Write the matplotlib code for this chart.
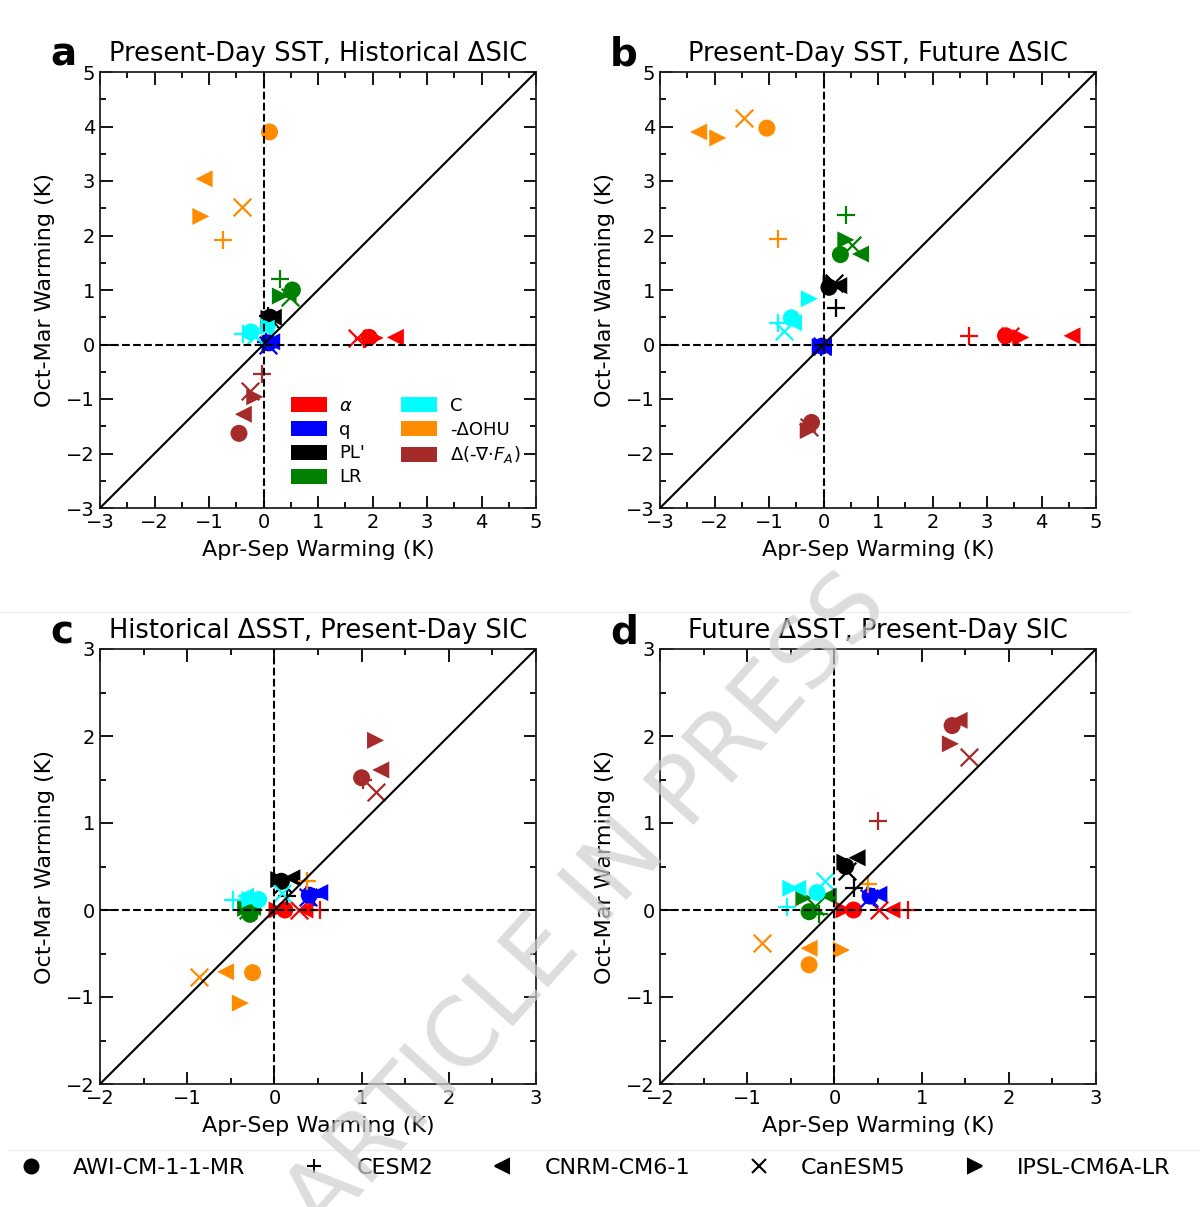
import matplotlib
matplotlib.use('Agg')
import matplotlib.pyplot as plt
from matplotlib.patches import Patch
from matplotlib.lines import Line2D

models = ['AWI-CM-1-1-MR', 'CESM2', 'CNRM-CM6-1', 'CanESM5', 'IPSL-CM6A-LR']
markers = ['o', '+', '<', 'x', '>']

components = ['$\\alpha$', 'q', "PL'", 'LR', 'C', '-ΔOHU', 'Δ(-∇·$F_A$)']
colors = ['#ff0000', '#0000ff', '#000000', '#008000', '#00ffff', '#ff8c00', '#a52a2a']

titles = ['Present-Day SST, Historical ΔSIC', 'Present-Day SST, Future ΔSIC',
          'Historical ΔSST, Present-Day SIC', 'Future ΔSST, Present-Day SIC']
letters = ['a', 'b', 'c', 'd']

# rows = components, columns = models (AWI, CESM2, CNRM, CanESM5, IPSL)
a_x = [[1.94, 1.85, 2.42, 1.72, 2.05],
       [0.10, 0.05, 0.15, 0.08, 0.12],
       [0.12, 0.08, 0.18, 0.14, 0.10],
       [0.53, 0.30, 0.45, 0.49, 0.31],
       [-0.23, -0.38, 0.05, -0.15, 0.10],
       [0.11, -0.75, -1.09, -0.40, -1.15],
       [-0.45, -0.02, -0.37, -0.24, -0.16]]
a_y = [[0.13, 0.10, 0.13, 0.12, 0.12],
       [0.03, 0.05, 0.05, 0.00, 0.02],
       [0.50, 0.53, 0.50, 0.45, 0.48],
       [1.00, 1.20, 0.92, 0.88, 0.89],
       [0.23, 0.20, 0.30, 0.15, 0.33],
       [3.90, 1.92, 3.04, 2.53, 2.35],
       [-1.63, -0.55, -1.28, -0.85, -0.96]]

b_x = [[3.34, 2.67, 4.56, 3.42, 3.62],
       [-0.03, -0.05, 0.00, -0.02, -0.06],
       [0.10, 0.23, 0.28, 0.20, 0.14],
       [0.31, 0.41, 0.68, 0.53, 0.41],
       [-0.59, -0.84, -0.55, -0.72, -0.26],
       [-1.04, -0.84, -2.29, -1.45, -1.94],
       [-0.22, -0.25, -0.30, -0.27, -0.28]]
b_y = [[0.16, 0.15, 0.16, 0.15, 0.13],
       [-0.03, -0.05, -0.05, -0.02, -0.04],
       [1.05, 0.67, 1.08, 1.13, 1.12],
       [1.65, 2.38, 1.66, 1.83, 1.92],
       [0.49, 0.40, 0.40, 0.24, 0.84],
       [3.97, 1.94, 3.90, 4.16, 3.79],
       [-1.43, -1.45, -1.47, -1.52, -1.58]]

c_x = [[0.12, 0.52, 0.35, 0.28, 0.03],
       [0.40, 0.45, 0.52, 0.38, 0.45],
       [0.08, 0.15, 0.20, 0.10, 0.05],
       [-0.28, -0.30, -0.25, -0.30, -0.33],
       [-0.18, -0.47, -0.33, 0.09, -0.28],
       [-0.25, 0.37, -0.56, -0.86, -0.39],
       [1.00, 1.02, 1.22, 1.16, 1.16]]
c_y = [[0.00, 0.00, 0.00, 0.00, 0.00],
       [0.17, 0.15, 0.20, 0.15, 0.18],
       [0.33, 0.16, 0.37, 0.30, 0.35],
       [-0.05, -0.02, 0.03, 0.00, 0.02],
       [0.12, 0.12, 0.16, 0.20, 0.12],
       [-0.72, 0.33, -0.71, -0.77, -1.07],
       [1.52, 1.50, 1.61, 1.36, 1.95]]

d_x = [[0.22, 0.84, 0.66, 0.51, 0.11],
       [0.41, 0.45, 0.51, 0.40, 0.46],
       [0.13, 0.22, 0.26, 0.15, 0.12],
       [-0.29, -0.18, -0.07, -0.22, -0.35],
       [-0.20, -0.54, -0.42, -0.11, -0.50],
       [-0.29, 0.39, -0.29, -0.83, 0.08],
       [1.35, 0.50, 1.43, 1.54, 1.33]]
d_y = [[0.00, 0.00, 0.00, 0.00, 0.00],
       [0.16, 0.15, 0.18, 0.14, 0.17],
       [0.50, 0.25, 0.60, 0.45, 0.55],
       [-0.02, -0.05, 0.16, 0.05, 0.14],
       [0.20, 0.03, 0.25, 0.33, 0.25],
       [-0.63, 0.30, -0.44, -0.38, -0.46],
       [2.12, 1.02, 2.18, 1.76, 1.91]]

panel_x = [a_x, b_x, c_x, d_x]
panel_y = [a_y, b_y, c_y, d_y]
limits = [(-3, 5), (-3, 5), (-2, 3), (-2, 3)]

W, H = 1200, 1207
fig = plt.figure(figsize=(W / 100, H / 100), dpi=100)

# axes boxes in pixels: left, top, right, bottom
boxes = [(100, 72, 536, 508), (660, 72, 1096, 508),
         (100, 649, 536, 1084), (660, 649, 1096, 1084)]

for i in range(4):
    l, t, r, b = boxes[i]
    ax = fig.add_axes([l / W, 1 - b / H, (r - l) / W, (b - t) / H])
    lo, hi = limits[i]
    ax.set_xlim(lo, hi)
    ax.set_ylim(lo, hi)

    for c in range(len(components)):
        for m in range(len(models)):
            mk = markers[m]
            if mk in ['+', 'x']:
                ax.scatter(panel_x[i][c][m], panel_y[i][c][m], marker=mk, s=160,
                           color=colors[c], linewidths=1.6, zorder=2)
            else:
                ax.scatter(panel_x[i][c][m], panel_y[i][c][m], marker=mk, s=150,
                           color=colors[c], edgecolors='none', zorder=2)

    ax.axhline(0, color='k', ls='--', lw=1.5, zorder=3)
    ax.axvline(0, color='k', ls='--', lw=1.5, zorder=3)
    ax.axline((0, 0), slope=1, color='k', lw=1.5, zorder=3)

    ax.set_xticks(range(lo, hi + 1))
    ax.set_yticks(range(lo, hi + 1))
    ax.set_xticks([v + 0.5 for v in range(lo, hi)], minor=True)
    ax.set_yticks([v + 0.5 for v in range(lo, hi)], minor=True)
    ax.tick_params(which='both', direction='in', top=True, right=True,
                   labelsize=14, width=1.3)
    ax.tick_params(which='major', length=9)
    ax.tick_params(which='minor', length=4.5)
    for s in ax.spines.values():
        s.set_linewidth(1.3)
        s.set_color('#222222')

    ax.set_xlabel('Apr-Sep Warming (K)', fontsize=16, labelpad=6)
    ax.set_ylabel('Oct-Mar Warming (K)', fontsize=16, labelpad=8)
    ax.set_title(titles[i], fontsize=18.5, pad=8)
    fig.text((l - 50) / W, 1 - (t - 6) / H, letters[i], fontsize=28,
             fontweight='bold', ha='left', va='baseline')

    if i == 0:
        handles = [Patch(facecolor=colors[c], edgecolor='none', label=components[c])
                   for c in range(len(components))]
        ax.legend(handles=handles, ncol=2, loc='upper left', bbox_to_anchor=(0.40, 0.292),
                  frameon=False, fontsize=13, handlelength=2.0, handleheight=0.9,
                  labelspacing=0.32, columnspacing=2.0, handletextpad=0.7)

# model legend along the bottom
mhandles = [Line2D([], [], marker=markers[m], color='k', ls='none', markersize=10,
                   markeredgewidth=1.5, label=models[m]) for m in range(len(models))]
fig.legend(handles=mhandles, ncol=5, loc='center', bbox_to_anchor=(0.493, 1 - 1168 / H),
           frameon=False, fontsize=16, handlelength=1.6, handletextpad=1.1,
           columnspacing=2.3, borderpad=0.2)

# faint panel separators
fig.add_artist(Line2D([0, 1130 / W], [1 - 612 / H, 1 - 612 / H], color='#eeeeee', lw=1))
fig.add_artist(Line2D([8 / W, 1], [1 - 1150 / H, 1 - 1150 / H], color='#eeeeee', lw=1))

fig.text(0.49, 1 - 905 / H, 'ARTICLE IN PRESS', fontsize=68, color='#cfcfcf', alpha=0.7,
         rotation=48, ha='center', va='center', rotation_mode='anchor', zorder=10)

fig.savefig('out.png', dpi=100)
plt.close(fig)
